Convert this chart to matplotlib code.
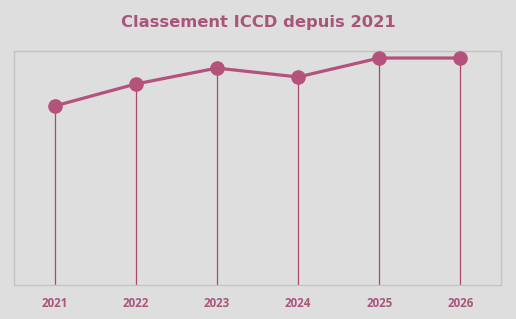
import matplotlib
matplotlib.use("Agg")
import matplotlib.pyplot as plt

# Chart data
years = ["2021", "2022", "2023", "2024", "2025", "2026"]
scores = [76.5, 85.9, 92.7, 88.9, 97.0, 97.0]

# Colours
bg = "#dedede"
pink = "#b5527c"
drop = "#a8486f"
text_col = "#a9557a"

fig = plt.figure(figsize=(5.16, 3.19), dpi=100, facecolor=bg)
ax = fig.add_axes([14 / 516, 1 - 285 / 319, 487 / 516, 234 / 319])
ax.set_facecolor(bg)

x = list(range(len(years)))

# Drop lines from each point to the bottom
ax.vlines(x, 0, scores, colors=drop, linewidth=0.9, zorder=2)

# Main line with markers
ax.plot(x, scores, color=pink, linewidth=2.3, marker="o", markersize=9.5,
        zorder=3, solid_capstyle="round")

ax.set_xlim(-0.5, len(years) - 0.5)
ax.set_ylim(0, 100)
ax.set_yticks([])
ax.set_xticks(x)
ax.set_xticklabels(years, fontsize=8.3, fontweight="bold", color=text_col,
                   family="Open Sans")
ax.tick_params(axis="x", length=0, pad=8.5)

for s in ax.spines.values():
    s.set_color("#c4c4c4")
    s.set_linewidth(1)

fig.text(0.5, 1 - 22 / 319, "Classement ICCD depuis 2021", ha="center",
         va="center", fontsize=11.8, fontweight="bold", color=text_col,
         family="DejaVu Sans")

fig.savefig("out.png", dpi=100, facecolor=bg)
